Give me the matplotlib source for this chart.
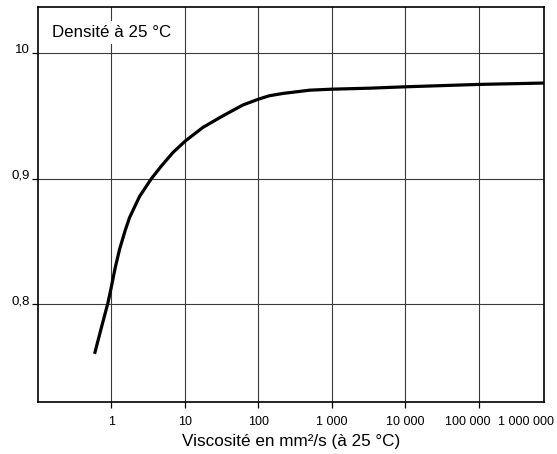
import matplotlib
matplotlib.use("Agg")
from matplotlib import pyplot as plt

plt.rcParams['font.family'] = ['Liberation Sans', 'DejaVu Sans']

# Density curve vs kinematic viscosity (log scale)
viscosity = [0.593, 0.731, 0.90, 1.0, 1.13, 1.30, 1.55, 1.77, 2.43, 3.50, 4.79, 6.89, 10.2,
             17.6, 33.0, 61.7, 101, 142, 216, 499, 1000, 3270, 10000, 100000, 773000]
density = [0.7605, 0.781, 0.801, 0.8135, 0.829, 0.844, 0.859, 0.869, 0.886, 0.900, 0.9101,
           0.9209, 0.9302, 0.9409, 0.9502, 0.9588, 0.9635, 0.9662, 0.968, 0.9706,
           0.9714, 0.9722, 0.9733, 0.9752, 0.9763]

x_ticks = [1, 10, 100, 1000, 10000, 100000]
x_labels = ['1', '10', '100', '1 000', '10 000', '']
y_ticks = [0.8, 0.9, 1.0]
y_labels = ['0,8', '0,9', '10']

# labels drawn apart from the ticks near the right end
extra_labels = [(10 ** 4.841, '100 000'), (10 ** 5.637, '1 000 000')]

fig = plt.figure(figsize=(5.57, 4.54), dpi=100)
ax = fig.add_axes([0.0677, 0.1152, 0.9772 - 0.0677, 0.9852 - 0.1152])

ax.plot(viscosity, density, color='black', lw=2.3, solid_capstyle='butt',
        solid_joinstyle='round', zorder=3)

ax.set_xscale('log')
ax.set_xlim(0.1, 10 ** 5.888)
ax.set_ylim(0.7224, 1.0371)
ax.minorticks_off()
ax.set_xticks(x_ticks)
ax.set_xticklabels(x_labels, fontsize=9)
ax.set_yticks(y_ticks)
ax.set_yticklabels(y_labels, fontsize=9.5, va='baseline')
ax.tick_params(axis='both', direction='out', length=4.3, width=0.9, color='black')
ax.tick_params(axis='x', pad=6)
ax.tick_params(axis='y', pad=1.2)
ax.grid(True, color='#3a3a3a', lw=0.8, zorder=1)

for s in ax.spines.values():
    s.set_linewidth(1.2)

for xv, txt in extra_labels:
    ax.annotate(txt, xy=(xv, 0), xycoords=('data', 'axes fraction'),
                xytext=(0, -10.3), textcoords='offset points',
                ha='center', va='top', fontsize=9)

ax.set_xlabel('Viscosité en mm²/s (à 25 °C)', fontsize=12.3, labelpad=4)

ax.text(0.0276, 0.935, 'Densité à 25 °C', transform=ax.transAxes, fontsize=12.2,
        ha='left', va='center', zorder=4,
        bbox=dict(facecolor='white', edgecolor='none', pad=3))

fig.savefig('out.png', dpi=100)
